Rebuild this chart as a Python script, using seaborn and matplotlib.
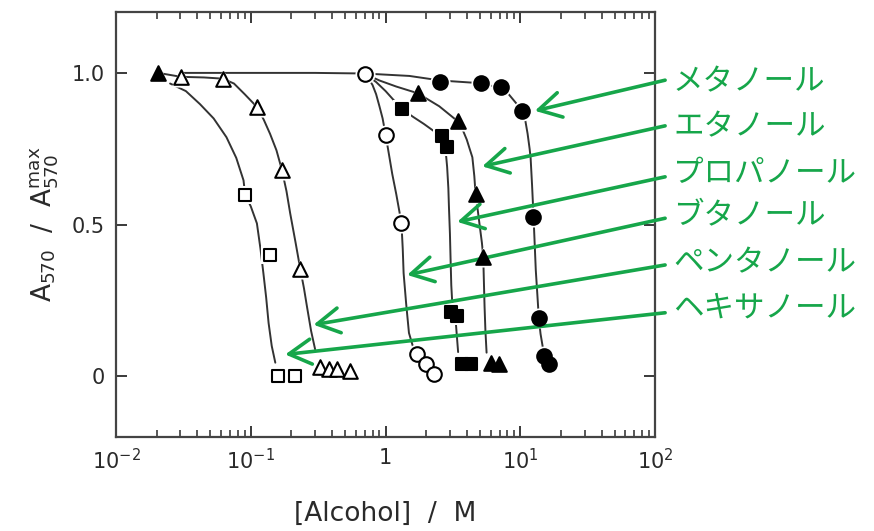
import matplotlib
matplotlib.use('Agg')
import matplotlib.pyplot as plt
import numpy as np
import seaborn as sns

sns.set_style('ticks')
plt.rcParams['font.family'] = ['DejaVu Sans']

# measured points (x = alcohol concentration / M, y = A570 / A570max)
meoh_x = [2.55, 5.06, 7.13, 10.3, 12.5, 13.7, 15.0, 16.3]
meoh_y = [0.971, 0.968, 0.952, 0.873, 0.526, 0.192, 0.067, 0.039]
etoh_x = [0.0206, 1.73, 3.44, 4.65, 5.30, 6.0, 6.94]
etoh_y = [1.0, 0.933, 0.840, 0.600, 0.394, 0.045, 0.039]
proh_x = [1.32, 2.63, 2.83, 3.03, 3.40, 3.66, 4.33]
proh_y = [0.881, 0.793, 0.757, 0.211, 0.200, 0.040, 0.039]
buoh_x = [0.708, 1.0, 1.31, 1.71, 1.98, 2.28]
buoh_y = [0.996, 0.796, 0.506, 0.072, 0.039, 0.007]
peoh_x = [0.0304, 0.062, 0.112, 0.170, 0.233, 0.328, 0.378, 0.436, 0.541]
peoh_y = [0.987, 0.981, 0.886, 0.681, 0.353, 0.030, 0.025, 0.023, 0.017]
hxoh_x = [0.0908, 0.139, 0.159, 0.214]
hxoh_y = [0.599, 0.400, 0.0, 0.0]

# hand-drawn fit curves
meoh_cx = [0.03, 0.3, 0.7, 1.5, 2.55, 5.06, 7.13, 8.0, 9.3, 10.3, 10.9, 11.3, 11.7,
           11.9, 12.2, 12.5, 12.75, 13.0, 13.35, 13.7, 14.1, 14.6, 15.3]
meoh_cy = [1.0, 1.0, 0.998, 0.99, 0.975, 0.966, 0.95, 0.935, 0.90, 0.873, 0.84, 0.80,
           0.75, 0.72, 0.63, 0.53, 0.44, 0.35, 0.27, 0.19, 0.14, 0.10, 0.06]
etoh_cx = [0.708, 0.9, 1.2, 1.73, 2.5, 3.44, 3.75, 4.0, 4.2, 4.40, 4.55, 4.65, 4.85,
           5.0, 5.18, 5.30, 5.36, 5.42, 5.5, 5.61]
etoh_cy = [0.996, 0.975, 0.955, 0.933, 0.89, 0.84, 0.81, 0.78, 0.75, 0.722, 0.66, 0.60,
           0.54, 0.493, 0.44, 0.394, 0.31, 0.23, 0.15, 0.078]
proh_cx = [0.708, 0.85, 1.0, 1.15, 1.32, 1.6, 1.92, 2.25, 2.63, 2.78, 2.86, 2.92, 2.95,
           3.0, 3.03, 3.07, 3.15, 3.3, 3.45]
proh_cy = [0.996, 0.97, 0.94, 0.91, 0.881, 0.855, 0.832, 0.81, 0.79, 0.75, 0.69, 0.62,
           0.558, 0.47, 0.394, 0.30, 0.21, 0.19, 0.08]
buoh_cx = [0.708, 0.75, 0.80, 0.85, 0.90, 0.95, 1.0, 1.06, 1.12, 1.2, 1.31, 1.34, 1.36,
           1.42, 1.49, 1.62]
buoh_cy = [0.996, 0.98, 0.96, 0.93, 0.89, 0.85, 0.796, 0.73, 0.667, 0.60, 0.506, 0.42,
           0.34, 0.24, 0.143, 0.088]
peoh_cx = [0.0206, 0.0304, 0.045, 0.062, 0.075, 0.09, 0.112, 0.125, 0.139, 0.155, 0.170,
           0.184, 0.196, 0.215, 0.233, 0.248, 0.261, 0.28, 0.30]
peoh_cy = [1.0, 0.987, 0.985, 0.981, 0.965, 0.93, 0.886, 0.845, 0.799, 0.745, 0.681,
           0.61, 0.537, 0.44, 0.353, 0.29, 0.230, 0.15, 0.089]
hxoh_cx = [0.0252, 0.033, 0.042, 0.053, 0.066, 0.078, 0.0883, 0.0908, 0.1, 0.111, 0.118,
           0.124, 0.130, 0.1355, 0.143, 0.152]
hxoh_cy = [0.965, 0.94, 0.897, 0.85, 0.788, 0.72, 0.646, 0.599, 0.56, 0.504, 0.42,
           0.340, 0.26, 0.176, 0.10, 0.045]

labels = ['メタノール', 'エタノール', 'プロパノール', 'ブタノール', 'ペンタノール', 'ヘキサノール']
arrow_x = [12.8, 5.21, 3.40, 1.445, 0.292, 0.180]
arrow_y = [0.875, 0.692, 0.509, 0.334, 0.170, 0.072]

green = '#16a64a'
ink = '#2a2a2a'

fig = plt.figure(figsize=(8.74, 5.31), dpi=100)
ax = fig.add_axes([0.1327, 0.177, 0.617, 0.800])

curves = [(meoh_cx, meoh_cy), (etoh_cx, etoh_cy), (proh_cx, proh_cy),
          (buoh_cx, buoh_cy), (peoh_cx, peoh_cy), (hxoh_cx, hxoh_cy)]
for cx, cy in curves:
    sns.lineplot(x=cx, y=cy, ax=ax, color='#333333', lw=1.4, sort=False,
                 estimator=None, zorder=2)

series = [
    (meoh_x, meoh_y, 'o', 'black', 110),
    (etoh_x, etoh_y, '^', 'black', 110),
    (proh_x, proh_y, 's', 'black', 85),
    (buoh_x, buoh_y, 'o', 'white', 110),
    (peoh_x, peoh_y, '^', 'white', 110),
    (hxoh_x, hxoh_y, 's', 'white', 85),
]
for xs, ys, m, fc, s in series:
    # white halo so the curves break around the symbols
    sns.scatterplot(x=xs, y=ys, ax=ax, marker=m, s=s * 1.9, color='white',
                    edgecolor='white', linewidth=0, zorder=3)
    sns.scatterplot(x=xs, y=ys, ax=ax, marker=m, s=s, color=fc,
                    edgecolor='black', linewidth=1.5, zorder=4)

ax.set_xscale('log')
ax.set_xlim(1e-2, 1e2)
ax.set_ylim(-0.2, 1.2)
ax.set_xticks([1e-2, 1e-1, 1, 1e1, 1e2])
ax.set_xticklabels(['10$^{-2}$', '10$^{-1}$', '1', '10$^{1}$', '10$^{2}$'])
ax.set_yticks([0, 0.5, 1.0])
ax.set_yticklabels(['0', '0.5', '1.0'])
ax.tick_params(which='both', direction='in', top=True, right=True,
               labelsize=15, colors=ink, pad=8)
ax.tick_params(which='major', length=8, width=1.3)
ax.tick_params(which='minor', length=5, width=1.1)
for sp in ax.spines.values():
    sp.set_linewidth(1.6)
    sp.set_color('#444444')

ax.set_xlabel('[Alcohol]  /  M', fontsize=19, color=ink, labelpad=20)
ax.set_ylabel('A$_{570}$  /  A$_{570}^{\\mathrm{max}}$', fontsize=19,
              color=ink, labelpad=8)

text_y = [0.846, 0.761, 0.674, 0.595, 0.505, 0.420]
tail_y = [0.849, 0.763, 0.667, 0.589, 0.501, 0.411]
for lab, ax_, ay, ty, tly in zip(labels, arrow_x, arrow_y, text_y, tail_y):
    ax.annotate('', xy=(ax_, ay), xycoords='data',
                xytext=(0.761, tly), textcoords='figure fraction',
                annotation_clip=False,
                arrowprops=dict(arrowstyle='->,head_length=0.8,head_width=0.45',
                                mutation_scale=20, color=green, lw=2.6,
                                shrinkA=0, shrinkB=0))
    fig.text(0.770, ty, lab, color=green, fontsize=22, va='center', ha='left',
             family=['Noto Sans CJK JP', 'DejaVu Sans'])

fig.savefig('out.png', dpi=100)
